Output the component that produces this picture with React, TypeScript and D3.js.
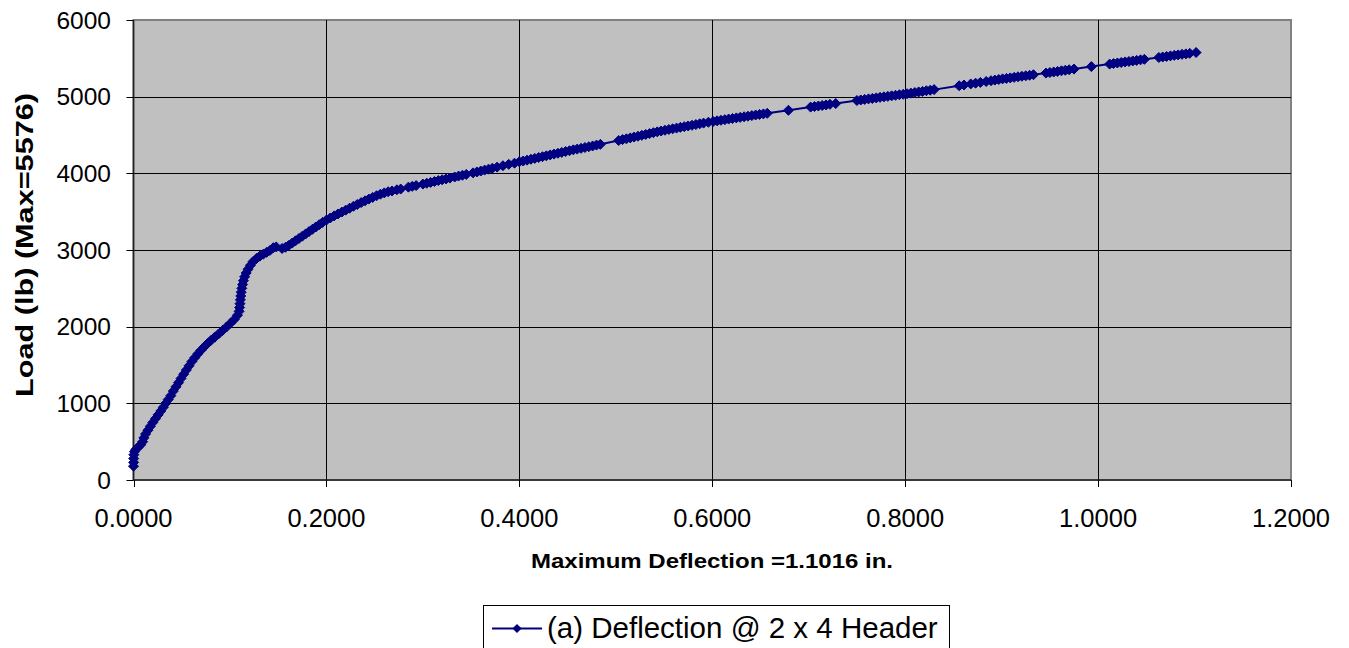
import React from 'react';
import * as d3 from 'd3';

// Load vs. maximum deflection readings (in., lb)
const deflection: number[] = [
  0.0000, 0.0001, 0.0002, 0.0004, 0.0010, 0.0025, 0.0050, 0.0075, 0.0095, 0.0108,
  0.0125, 0.0150, 0.0175, 0.0200, 0.0228, 0.0255, 0.0283, 0.0310, 0.0335, 0.0360,
  0.0387, 0.0413, 0.0440, 0.0467, 0.0493, 0.0520, 0.0548, 0.0576, 0.0605, 0.0635,
  0.0666, 0.0698, 0.0732, 0.0767, 0.0804, 0.0842, 0.0882, 0.0923, 0.0964, 0.1005,
  0.1045, 0.1078, 0.1095, 0.1100, 0.1104, 0.1108, 0.1112, 0.1117, 0.1123, 0.1131,
  0.1140, 0.1152, 0.1168, 0.1188, 0.1212, 0.1240, 0.1275, 0.1310, 0.1345, 0.1380,
  0.1415, 0.1450, 0.1480, 0.1540, 0.1575, 0.1610, 0.1645, 0.1680, 0.1715, 0.1750,
  0.1785, 0.1820, 0.1855, 0.1890, 0.1925, 0.1960, 0.2000, 0.2040, 0.2080, 0.2120,
  0.2160, 0.2200, 0.2240, 0.2280, 0.2320, 0.2360, 0.2400, 0.2440, 0.2480, 0.2520,
  0.2560, 0.2600, 0.2640, 0.2680, 0.2730, 0.2770, 0.2850, 0.2890, 0.2930, 0.3000,
  0.3040, 0.3080, 0.3120, 0.3160, 0.3200, 0.3240, 0.3280, 0.3330, 0.3370, 0.3410,
  0.3450, 0.3520, 0.3560, 0.3600, 0.3640, 0.3680, 0.3720, 0.3770, 0.3830, 0.3890,
  0.3950, 0.4000, 0.4040, 0.4080, 0.4120, 0.4160, 0.4200, 0.4240, 0.4280, 0.4320,
  0.4360, 0.4400, 0.4440, 0.4480, 0.4520, 0.4560, 0.4600, 0.4640, 0.4680, 0.4720,
  0.4760, 0.4800, 0.4840, 0.5030, 0.5070, 0.5110, 0.5150, 0.5190, 0.5230, 0.5270,
  0.5310, 0.5350, 0.5390, 0.5430, 0.5470, 0.5510, 0.5550, 0.5590, 0.5630, 0.5670,
  0.5710, 0.5750, 0.5790, 0.5830, 0.5870, 0.5910, 0.5960, 0.6010, 0.6050, 0.6090,
  0.6130, 0.6170, 0.6210, 0.6250, 0.6290, 0.6330, 0.6370, 0.6410, 0.6450, 0.6490,
  0.6530, 0.6570, 0.6790, 0.7020, 0.7060, 0.7100, 0.7140, 0.7180, 0.7220, 0.7280,
  0.7500, 0.7540, 0.7580, 0.7620, 0.7660, 0.7700, 0.7740, 0.7780, 0.7820, 0.7860,
  0.7900, 0.7940, 0.7980, 0.8020, 0.8060, 0.8100, 0.8140, 0.8180, 0.8220, 0.8260,
  0.8300, 0.8560, 0.8610, 0.8680, 0.8730, 0.8780, 0.8840, 0.8890, 0.8930, 0.8970,
  0.9010, 0.9050, 0.9090, 0.9130, 0.9170, 0.9210, 0.9250, 0.9290, 0.9330, 0.9460,
  0.9500, 0.9540, 0.9580, 0.9620, 0.9660, 0.9700, 0.9750, 0.9930, 1.0120, 1.0160,
  1.0200, 1.0240, 1.0280, 1.0320, 1.0360, 1.0400, 1.0440, 1.0480, 1.0630, 1.0670,
  1.0710, 1.0750, 1.0790, 1.0830, 1.0870, 1.0910, 1.0950, 1.1016,
];

const load: number[] = [
  180, 230, 280, 330, 370, 400, 430, 460, 500, 550,
  600, 650, 700, 750, 800, 850, 900, 950, 1000, 1050,
  1100, 1160, 1215, 1270, 1325, 1380, 1435, 1490, 1545, 1595,
  1645, 1690, 1735, 1780, 1822, 1862, 1905, 1950, 1995, 2045,
  2095, 2150, 2200, 2250, 2300, 2350, 2400, 2450, 2500, 2550,
  2600, 2650, 2700, 2750, 2800, 2850, 2890, 2920, 2945, 2970,
  2995, 3030, 3040, 3020, 3035, 3060, 3090, 3120, 3150, 3180,
  3210, 3240, 3270, 3300, 3330, 3360, 3390, 3418, 3445, 3470,
  3495, 3520, 3545, 3570, 3594, 3618, 3641, 3664, 3686, 3708,
  3728, 3745, 3760, 3770, 3785, 3795, 3820, 3830, 3840, 3860,
  3871, 3882, 3893, 3905, 3916, 3927, 3938, 3952, 3964, 3975,
  3986, 4006, 4018, 4030, 4042, 4054, 4066, 4081, 4099, 4117,
  4133, 4150, 4161, 4172, 4184, 4195, 4206, 4217, 4228, 4240,
  4251, 4262, 4273, 4284, 4295, 4306, 4316, 4326, 4337, 4347,
  4357, 4368, 4378, 4428, 4440, 4450, 4462, 4473, 4484, 4496,
  4507, 4518, 4530, 4541, 4552, 4562, 4572, 4581, 4590, 4600,
  4609, 4618, 4627, 4636, 4646, 4655, 4666, 4677, 4685, 4692,
  4700, 4708, 4715, 4723, 4730, 4738, 4745, 4753, 4761, 4768,
  4775, 4783, 4822, 4864, 4871, 4878, 4885, 4892, 4900, 4910,
  4950, 4957, 4964, 4971, 4977, 4984, 4991, 4998, 5004, 5011,
  5018, 5025, 5031, 5039, 5046, 5054, 5062, 5069, 5077, 5084,
  5092, 5142, 5152, 5166, 5176, 5186, 5198, 5208, 5216, 5224,
  5232, 5238, 5245, 5252, 5259, 5266, 5272, 5279, 5286, 5308,
  5315, 5322, 5329, 5337, 5344, 5351, 5360, 5392, 5425, 5432,
  5439, 5446, 5453, 5459, 5466, 5473, 5480, 5487, 5511, 5518,
  5524, 5532, 5539, 5545, 5552, 5558, 5565, 5576,
];

const xTicks = [0, 0.2, 0.4, 0.6, 0.8, 1.0, 1.2];
const yTicks = [0, 1000, 2000, 3000, 4000, 5000, 6000];

const seriesName = '(a) Deflection @ 2 x 4 Header';
const xTitle = 'Maximum Deflection =1.1016 in.';
const yTitle = 'Load (lb) (Max=5576)';

const W = 1349;
const H = 648;
const plot = { left: 133.5, right: 1291, top: 20, bottom: 480 };
const navy = '#000080';
const font = 'Arial, "Liberation Sans", sans-serif';

// Excel-style diamond marker
const diamond = (r: number) => `M0,${-r}L${r},0L0,${r}L${-r},0Z`;

export default function App() {
  const x = d3.scaleLinear().domain([0, 1.2]).range([plot.left, plot.right]);
  const y = d3.scaleLinear().domain([0, 6000]).range([plot.bottom, plot.top]);

  const points = deflection.map((d, i) => [d, load[i]] as [number, number]);
  const line = d3.line<[number, number]>()
    .x(d => x(d[0]))
    .y(d => y(d[1]));

  return (
    <svg
      width={W}
      height={H}
      style={{ position: 'absolute', left: 0, top: 0, display: 'block', background: '#fff' }}
      fontFamily={font}
    >
      {/* plot area */}
      <rect
        x={plot.left}
        y={plot.top}
        width={plot.right - plot.left}
        height={plot.bottom - plot.top}
        fill="#C0C0C0"
        stroke="#808080"
        strokeWidth={2}
      />

      {/* gridlines */}
      {yTicks.filter(t => t > 0 && t < 6000).map(t => (
        <line key={'gy' + t} x1={plot.left} x2={plot.right} y1={Math.round(y(t)) + 0.5} y2={Math.round(y(t)) + 0.5} stroke="#000" strokeWidth={1} />
      ))}
      {xTicks.filter(t => t > 0 && t < 1.2).map(t => (
        <line key={'gx' + t} x1={Math.round(x(t)) + 0.5} x2={Math.round(x(t)) + 0.5} y1={plot.top} y2={plot.bottom} stroke="#000" strokeWidth={1} />
      ))}

      {/* axes */}
      <line x1={plot.left} x2={plot.left} y1={plot.top} y2={plot.bottom} stroke="#202020" strokeWidth={1.5} />
      <line x1={plot.left} x2={plot.right} y1={plot.bottom} y2={plot.bottom} stroke="#202020" strokeWidth={1.5} />

      {yTicks.map(t => (
        <g key={'ty' + t}>
          <line x1={plot.left - 7} x2={plot.left} y1={Math.round(y(t)) + 0.5} y2={Math.round(y(t)) + 0.5} stroke="#000" />
          <text x={111} y={y(t) + 8.5} textAnchor="end" fontSize={24.5} fill="#000">{t}</text>
        </g>
      ))}
      {xTicks.map(t => (
        <g key={'tx' + t}>
          <line x1={Math.round(x(t)) + 0.5} x2={Math.round(x(t)) + 0.5} y1={plot.bottom} y2={plot.bottom + 7} stroke="#000" />
          <text x={x(t)} y={527} textAnchor="middle" fontSize={25.5} fill="#000">{t.toFixed(4)}</text>
        </g>
      ))}

      {/* series */}
      <path d={line(points) || ''} fill="none" stroke={navy} strokeWidth={2} />
      {points.map((p, i) => (
        <path key={'m' + i} d={diamond(5)} transform={`translate(${x(p[0])},${y(p[1])})`} fill={navy} stroke={navy} strokeWidth={1} />
      ))}

      {/* axis titles */}
      <text
        x={712}
        y={568}
        textAnchor="middle"
        fontSize={21}
        fontWeight="bold"
        textLength={362}
        lengthAdjust="spacingAndGlyphs"
      >{xTitle}</text>
      <text
        transform={`translate(33,245) rotate(-90)`}
        textAnchor="middle"
        fontSize={24}
        fontWeight="bold"
        textLength={304}
        lengthAdjust="spacingAndGlyphs"
      >{yTitle}</text>

      {/* legend */}
      <rect x={483.5} y={605.5} width={466} height={60} fill="#fff" stroke="#000" strokeWidth={1} />
      <line x1={492} x2={542} y1={628.5} y2={628.5} stroke={navy} strokeWidth={2} />
      <path d={diamond(4.6)} transform="translate(517,628.5)" fill={navy} />
      <text x={547} y={638} fontSize={29.5} fill="#000">{seriesName}</text>
    </svg>
  );
}
